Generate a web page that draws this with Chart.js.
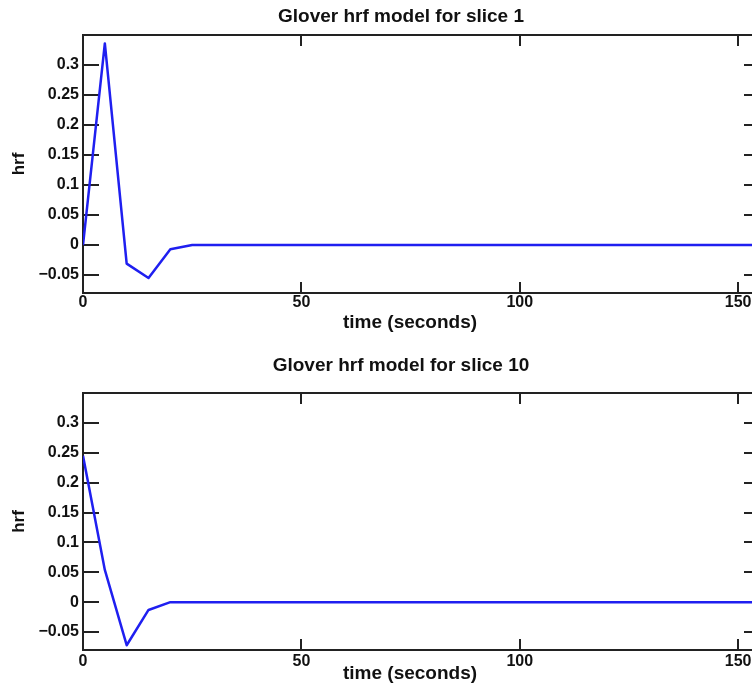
<!DOCTYPE html>
<html>
<head>
<meta charset="utf-8">
<script src="https://cdn.jsdelivr.net/npm/chart.js@4.4.0/dist/chart.umd.min.js"></script>
<style>
  html, body { margin: 0; padding: 0; background: #fff; }
  #page { width: 752px; height: 684px; overflow: hidden; }
  canvas { display: block; }
</style>
</head>
<body>
<div id="page">
  <canvas id="slice1Chart" width="802" height="340"></canvas>
  <canvas id="slice10Chart" width="802" height="344"></canvas>
</div>
<script>
// sampled hrf, one point every 5 s
const timeSeconds = [0, 5, 10, 15, 20, 25, 30, 35, 40, 45, 50, 55, 60, 65, 70, 75,
  80, 85, 90, 95, 100, 105, 110, 115, 120, 125, 130, 135, 140, 145, 150, 155];
const hrfSlice1 = [0, 0.336, -0.031, -0.055, -0.007, 0, 0, 0, 0, 0, 0, 0, 0, 0, 0, 0,
  0, 0, 0, 0, 0, 0, 0, 0, 0, 0, 0, 0, 0, 0, 0, 0];
const hrfSlice10 = [0.245, 0.054, -0.072, -0.013, 0, 0, 0, 0, 0, 0, 0, 0, 0, 0, 0, 0,
  0, 0, 0, 0, 0, 0, 0, 0, 0, 0, 0, 0, 0, 0, 0, 0];

const xTickValues = [0, 50, 100, 150];
const yTickValues = [-0.05, 0, 0.05, 0.1, 0.15, 0.2, 0.25, 0.3];
const xRange = [0, 155];
const yRange = [-0.08, 0.35];

const frameColor = '#222';
const lineColor = '#1f1ff0';

Chart.defaults.font.family = '"Liberation Sans", Arial, sans-serif';
Chart.defaults.font.weight = 'bold';
Chart.defaults.color = '#111';

// x label drawn by hand so it can sit where the original has it
const xLabelPlugin = {
  id: 'xLabel',
  afterDraw(chart, args, opts) {
    const ctx = chart.ctx;
    ctx.save();
    ctx.font = 'bold 19px "Liberation Sans", Arial, sans-serif';
    ctx.fillStyle = '#111';
    ctx.textAlign = 'center';
    ctx.textBaseline = 'middle';
    ctx.fillText(opts.text, opts.x, opts.y);
    ctx.restore();
  }
};

function useTicks(values) {
  return scale => { scale.ticks = values.map(v => ({ value: v })); };
}

function frameGrid(len) {
  return { drawOnChartArea: false, color: frameColor, lineWidth: 2, tickLength: len };
}

function makeChart(id, title, values, frame) {
  const ctx = document.getElementById(id).getContext('2d');
  return new Chart(ctx, {
    type: 'line',
    data: {
      datasets: [{
        data: timeSeconds.map((t, i) => ({ x: t, y: values[i] })),
        borderColor: lineColor,
        borderWidth: 2.5,
        borderJoinStyle: 'round',
        pointRadius: 0,
        tension: 0
      }]
    },
    options: {
      responsive: false,
      animation: false,
      layout: { padding: 0 },
      plugins: {
        legend: { display: false },
        tooltip: { enabled: false },
        title: {
          display: true,
          text: title,
          color: '#111',
          font: { size: 19, weight: 'bold' },
          padding: frame.titlePad
        },
        xLabel: { text: 'time (seconds)', x: 410, y: frame.xLabelY }
      },
      scales: {
        x: {
          type: 'linear',
          position: 'bottom',
          min: xRange[0],
          max: xRange[1],
          afterBuildTicks: useTicks(xTickValues),
          afterFit: s => { s.height = frame.xAxisHeight; },
          grid: frameGrid(-11),
          border: { color: frameColor, width: 2 },
          ticks: { font: { size: 16 }, padding: frame.xTickPad, maxRotation: 0, autoSkip: false }
        },
        x2: {
          type: 'linear',
          axis: 'x',
          position: 'top',
          min: xRange[0],
          max: xRange[1],
          afterBuildTicks: useTicks(xTickValues),
          afterFit: s => { s.height = 0; },
          grid: frameGrid(-11),
          border: { color: frameColor, width: 2 },
          ticks: { display: false }
        },
        y: {
          type: 'linear',
          position: 'left',
          min: yRange[0],
          max: yRange[1],
          afterBuildTicks: useTicks(yTickValues),
          afterFit: s => { s.width = 83; },
          grid: frameGrid(-16),
          border: { color: frameColor, width: 2 },
          ticks: {
            font: { size: 16 },
            padding: 20,
            autoSkip: false,
            callback: v => String(v).replace('-', '\u2212')
          },
          title: {
            display: true,
            text: 'hrf',
            color: '#111',
            font: { size: 17, weight: 'bold' },
            padding: { top: 9, bottom: 0 }
          }
        },
        y2: {
          type: 'linear',
          axis: 'y',
          position: 'right',
          min: yRange[0],
          max: yRange[1],
          afterBuildTicks: useTicks(yTickValues),
          afterFit: s => { s.width = 42; },
          grid: frameGrid(-16),
          border: { color: frameColor, width: 2 },
          ticks: { display: false }
        }
      }
    },
    plugins: [xLabelPlugin]
  });
}

makeChart('slice1Chart', 'Glover hrf model for slice 1', hrfSlice1, {
  titlePad: { top: 5.6, bottom: 6.6 },
  xAxisHeight: 47,
  xTickPad: 11,
  xLabelY: 323
});

makeChart('slice10Chart', 'Glover hrf model for slice 10', hrfSlice10, {
  titlePad: { top: 14.6, bottom: 15.6 },
  xAxisHeight: 34,
  xTickPad: 13,
  xLabelY: 334
});
</script>
</body>
</html>
